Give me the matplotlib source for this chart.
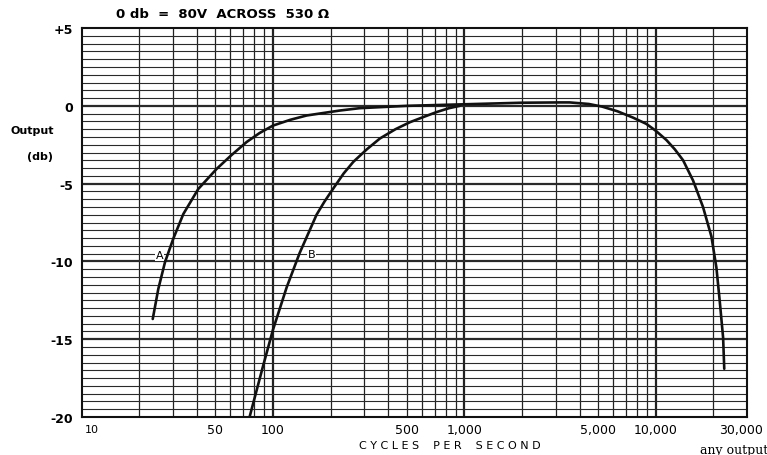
import matplotlib
matplotlib.use("Agg")
import matplotlib.pyplot as plt
from matplotlib.transforms import ScaledTranslation

plt.rcParams['font.family'] = ['DejaVu Sans']

# Curva A (respuesta completa)
freq_a = [23.55, 25.18, 27.29, 30.13, 34.04, 40.74, 50.82, 60.3, 72.78, 85.1, 100, 123,
          150, 224, 284, 501, 1000, 1995, 3162, 3548, 4467, 5248, 6310, 7586, 8933,
          10000, 11376, 12589, 13900, 15668, 17660, 19543, 20749, 21577, 22491, 22803]
db_a = [-13.7, -11.77, -10.05, -8.55, -6.95, -5.34, -4.05, -3.2, -2.33, -1.75, -1.27, -0.9,
        -0.62, -0.3, -0.15, 0.0, 0.1, 0.2, 0.22, 0.22, 0.12, -0.05, -0.35, -0.75, -1.16,
        -1.6, -2.2, -2.8, -3.5, -4.8, -6.5, -8.4, -10.4, -12.5, -14.9, -16.9]

# Curva B
freq_b = [75.5, 88.9, 100, 118, 138, 169, 186, 207, 234, 263, 309, 362, 437, 520, 617,
          716, 832, 946]
db_b = [-20.0, -16.7, -14.4, -11.66, -9.45, -7.0, -6.15, -5.3, -4.35, -3.6, -2.8, -2.1,
        -1.5, -1.05, -0.7, -0.4, -0.15, 0.0]

yticks = [5, 0, -5, -10, -15, -20]
ytick_labels = ['+5', '0', '-5', '-10', '-15', '-20']
xticks = [50, 100, 500, 1000, 5000, 10000, 30000]
xtick_labels = ['50', '100', '500', '1,000', '5,000', '10,000', '30,000']

fig = plt.figure(figsize=(7.67, 4.56), dpi=100)
ax = fig.add_axes([0.1063, 0.0833, 0.8677, 0.853])
ax.set_xscale('log')
ax.set_xlim(10, 30000)
ax.set_ylim(-20, 5)

# Rejilla de papel logaritmico
for dec in [10, 100, 1000, 10000]:
    for m in range(1, 10):
        f = dec * m
        if f <= 10 or f >= 30000:
            continue
        lw = 1.6 if m == 1 else 0.9
        ax.axvline(f, color='#222222', lw=lw, zorder=1)
for i in range(-40, 11):
    v = i * 0.5
    if v <= -20 or v >= 5:
        continue
    lw = 1.6 if i % 10 == 0 else 0.8
    ax.axhline(v, color='#2a2a2a', lw=lw, zorder=1)

ax.plot(freq_a, db_a, color='#111111', lw=1.9, zorder=3, solid_capstyle='round')
ax.plot(freq_b, db_b, color='#111111', lw=1.9, zorder=3, solid_capstyle='round')

ax.text(25.5, -9.6, 'A', fontsize=8, ha='center', va='center',
        bbox=dict(facecolor='white', edgecolor='none', pad=0.5), zorder=4)
ax.text(159, -9.5, 'B', fontsize=8, ha='center', va='center',
        bbox=dict(facecolor='white', edgecolor='none', pad=0.5), zorder=4)

for s in ax.spines.values():
    s.set_linewidth(1.5)
    s.set_color('#111111')

ax.set_yticks(yticks)
ax.set_yticklabels(ytick_labels, fontsize=9, fontweight='bold')
ax.set_xticks(xticks)
ax.set_xticklabels(xtick_labels, fontsize=9)
ax.xaxis.set_minor_locator(matplotlib.ticker.NullLocator())
ax.tick_params(length=0, pad=6)
ax.tick_params(axis='x', pad=4)
lab = ax.get_xticklabels()[-1]
lab.set_transform(lab.get_transform() + ScaledTranslation(-4 / 72, 0, fig.dpi_scale_trans))

fig.text(92 / 767, 1 - 430 / 456, '10', fontsize=8, ha='center', va='center')

fig.text(223 / 767, 1 - 15 / 456, '0 db  =  80V  ACROSS  530 Ω', fontsize=9.5,
         fontweight='bold', ha='center', va='center')
fig.text(450 / 767, 1 - 446 / 456, 'C Y C L E S    P E R    S E C O N D', fontsize=8,
         ha='center', va='center')
fig.text(32 / 767, 1 - 131 / 456, 'Output', fontsize=8, fontweight='bold',
         ha='center', va='center')
fig.text(40 / 767, 1 - 157 / 456, '(db)', fontsize=8, fontweight='bold',
         ha='center', va='center')
fig.text(700 / 767, 1 - 451 / 456, 'any output', fontsize=9, family='DejaVu Serif',
         ha='left', va='center')

fig.savefig('out.png', dpi=100, facecolor='white')
